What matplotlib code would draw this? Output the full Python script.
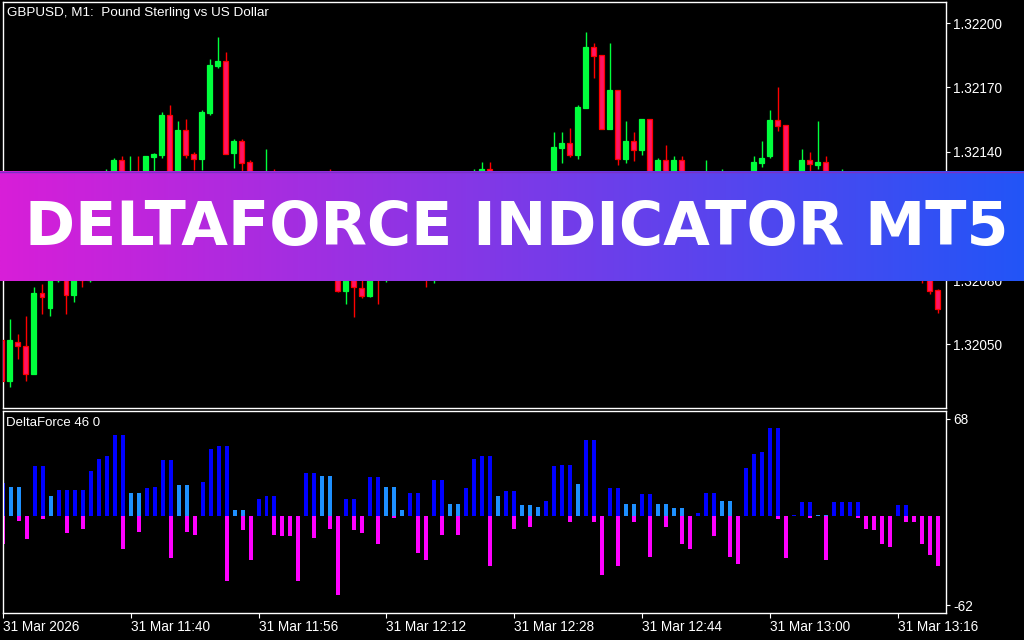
import numpy as np
import matplotlib
matplotlib.use("Agg")
import matplotlib.pyplot as plt

# ---------------- data ----------------
opens = [1.32052,1.32033,1.32051,1.32049,1.32036,1.32074,1.32067,1.32080,1.32096,1.32073,
         1.32088,1.32080,1.32098,1.32115,1.32126,1.32136,1.32122,1.32130,1.32127,1.321377,
         1.321385,1.321572,1.32128,1.321502,1.32139,1.321368,1.321582,1.321801,1.321824,1.321395,
         1.32145,1.321354,1.32115,1.32120,1.32128,1.32112,1.32104,1.32110,1.32095,1.32108,
         1.32116,1.32104,1.32100,1.32075,1.32095,1.320763,1.320727,1.32092,1.32082,1.32097,
         1.32090,1.32102,1.32095,1.32104,1.32088,1.32097,1.32106,1.32100,1.32114,1.32120,
         1.32126,1.321319,1.32120,1.32125,1.32115,1.32122,1.32118,1.32126,1.32120,1.32127,
         1.321418,1.321441,1.321385,1.321605,1.321891,1.321852,1.321506,1.321689,1.321366,1.32145,
         1.321408,1.321551,1.32125,1.321363,1.32128,1.321361,1.32124,1.32127,1.32121,1.32128,
         1.32120,1.32126,1.32116,1.32113,1.32122,1.321347,1.321382,1.321546,1.321527,1.32126,
         1.32128,1.321361,1.321338,1.321352,1.32122,1.32115,1.32124,1.32117,1.32110,1.32116,
         1.32106,1.32100,1.32106,1.32096,1.32100,1.32090,1.32084,1.320754]
highs = [1.32053,1.32062,1.32055,1.32063,1.32077,1.32078,1.32084,1.32100,1.32098,1.32090,
         1.32092,1.32100,1.32118,1.32132,1.32137,1.32138,1.32138,1.32138,1.32138,1.321392,
         1.321586,1.321618,1.321542,1.321551,1.321399,1.321596,1.321833,1.321936,1.321866,1.32146,
         1.32146,1.321363,1.32125,1.321413,1.32132,1.32118,1.32115,1.32112,1.32112,1.32120,
         1.32120,1.32132,1.32104,1.32098,1.32097,1.32082,1.32095,1.32096,1.32100,1.32102,
         1.32105,1.32106,1.32108,1.32108,1.32100,1.32110,1.32110,1.32118,1.32125,1.32132,
         1.321352,1.321352,1.32128,1.32128,1.32124,1.32126,1.32128,1.32129,1.32130,1.321492,
         1.321492,1.32151,1.321618,1.32196,1.321909,1.321852,1.321909,1.321689,1.321542,1.321492,
         1.321551,1.321551,1.32137,1.321433,1.321381,1.321381,1.32130,1.32130,1.321361,1.32130,
         1.32132,1.32128,1.32120,1.32125,1.321381,1.32145,1.321596,1.321702,1.321527,1.32130,
         1.321413,1.321399,1.321542,1.321381,1.32126,1.32132,1.32128,1.32120,1.32120,1.32118,
         1.32110,1.32110,1.32108,1.32104,1.32102,1.32094,1.32086,1.32076]
lows = [1.32032,1.32030,1.32043,1.32033,1.32036,1.32064,1.32063,1.32079,1.32064,1.32070,
        1.32077,1.32079,1.32095,1.32112,1.32124,1.32120,1.32120,1.32124,1.32125,1.32131,
        1.321371,1.32126,1.32127,1.321371,1.321315,1.321315,1.321573,1.321792,1.321391,1.321324,
        1.32128,1.32112,1.32108,1.32118,1.32110,1.32100,1.32100,1.32092,1.32093,1.32105,
        1.32100,1.32098,1.320745,1.32069,1.320627,1.320718,1.32072,1.32069,1.320793,1.32088,
        1.32088,1.32092,1.32093,1.320768,1.320787,1.32095,1.32098,1.32099,1.32112,1.32118,
        1.32124,1.32118,1.32116,1.32112,1.32112,1.32114,1.32116,1.32118,1.32117,1.32125,
        1.321347,1.321376,1.321366,1.321605,1.321746,1.321506,1.321506,1.321338,1.321347,1.321356,
        1.321385,1.32122,1.32123,1.32126,1.32126,1.32122,1.32120,1.32118,1.32119,1.32118,
        1.32118,1.32114,1.32110,1.32112,1.32120,1.32133,1.32137,1.321497,1.32124,1.32120,
        1.32126,1.32128,1.32132,1.32120,1.32112,1.32113,1.32114,1.32108,1.32108,1.32104,
        1.32098,1.32096,1.32094,1.32092,1.32088,1.320787,1.320734,1.320646]
closes = [1.32033,1.32052,1.32049,1.32036,1.32074,1.32072,1.32082,1.32096,1.32073,1.32088,
          1.32080,1.32098,1.32115,1.32128,1.32136,1.32122,1.32130,1.32127,1.32138,1.321391,
          1.321572,1.32128,1.321502,1.321385,1.321368,1.321586,1.321805,1.321824,1.321391,1.32145,
          1.321347,1.32115,1.32120,1.32128,1.32112,1.32104,1.32110,1.32095,1.32108,1.32116,
          1.32104,1.32100,1.32075,1.32095,1.320768,1.320727,1.32092,1.32082,1.32097,1.32090,
          1.32102,1.32095,1.32104,1.32088,1.32097,1.32106,1.32100,1.32114,1.32120,1.32128,
          1.321319,1.32120,1.32125,1.32115,1.32122,1.32118,1.32126,1.32120,1.32127,1.321422,
          1.321441,1.321385,1.321609,1.321891,1.321849,1.321506,1.321689,1.321366,1.32145,1.321408,
          1.321551,1.32125,1.321363,1.32128,1.321361,1.32124,1.32127,1.32121,1.32128,1.32120,
          1.32126,1.32116,1.32113,1.32122,1.321352,1.32137,1.321546,1.321522,1.32126,1.32128,
          1.321361,1.321343,1.321352,1.32122,1.32115,1.32124,1.32117,1.32110,1.32116,1.32106,
          1.32100,1.32106,1.32096,1.32100,1.32090,1.32084,1.32075,1.320666]

delta_pos = [23.5,20.3,20.3,0,35,35,14,18.2,18.2,18.2,
             18.2,31.5,40.1,42,56.6,56.6,16.1,16.1,19.6,20.3,
             39.2,39.2,21.7,21.7,0,23.8,47.1,49,49,4.2,
             4.2,0,11.9,14,14,0,0,0,30.1,30.1,
             28,28,0,11.9,11.9,0,27.3,27.3,20.3,20.3,
             4.2,16.1,16.1,0,25.2,25.2,8.4,8.4,19.6,40.1,
             42,42,14,17.5,17.5,7.7,7.7,6.3,10.5,35,
             35.7,35.7,22.4,53.1,53.1,0,19.6,19.6,8.4,8.4,
             15.4,15.4,8.4,8.4,5.6,5.6,0,2.3,16.1,16.1,
             10.5,10.5,0,33.6,43.4,44.8,61.5,61.5,0,0.7,
             9.8,9.8,0.7,0.7,9.8,9.8,9.8,9.8,0,0,
             0,0,7.9,7.9,0,0,0,0]
# 1 = weakening (light blue), 0 = strengthening (dark blue)
delta_pos_weak = [0,1,1,0,0,0,1,0,0,0,
                  0,0,0,0,0,0,1,1,0,0,
                  0,0,1,1,0,0,0,0,0,1,
                  1,0,0,0,0,0,0,0,0,0,
                  1,1,0,0,0,0,0,0,1,1,
                  1,0,0,0,0,0,1,1,0,0,
                  0,0,1,0,0,1,1,1,0,0,
                  0,0,1,0,0,0,0,0,1,1,
                  0,0,1,1,1,1,0,0,0,0,
                  1,1,0,0,0,0,0,0,0,0,
                  0,0,1,1,0,0,0,0,0,0,
                  0,0,0,0,0,0,0,0]
delta_neg = [-19.1,0,-3.3,-15.9,0,-1.9,0,0,-11.7,0,
             -8.9,0,0,0,0,-22.8,0,-11.2,0,0,
             0,-29.4,0,-11.2,-13.1,0,0,0,-45.2,0,
             -9.8,-30.8,0,0,-13.1,-14,-14,-45.2,0,-15.4,
             0,-8.9,-55,0,-9.8,-11.7,0,-19.6,0,-1.4,
             0,0,-25.6,-30.8,0,-13.1,0,-13.1,0,0,
             0,-35,0,0,-8.9,0,-7.5,0,0,0,
             0,-4.2,0,0,-4.2,-41,0,-35,0,-4.2,
             0,-28.4,0,-7.5,0,-19.6,-22.8,0,0,-14,
             0,-28.4,-33.6,0,0,0,0,-1.9,-29.4,0,
             0,-1.4,0,-30.8,0,0,0,-1.4,-8.9,-9.8,
             -19.6,-21.4,0,-4.2,-4.2,-19.6,-27,-35]

time_tick_idx = [0, 16, 32, 48, 64, 80, 96, 112]
time_tick_labels = ["31 Mar 2026", "31 Mar 11:40", "31 Mar 11:56", "31 Mar 12:12",
                    "31 Mar 12:28", "31 Mar 12:44", "31 Mar 13:00", "31 Mar 13:16"]
price_ticks = [1.32050, 1.32080, 1.32140, 1.32170, 1.32200]
ind_ticks = [68, -62]

title_text = "GBPUSD, M1:  Pound Sterling vs US Dollar"
ind_text = "DeltaForce 46 0"
banner_text = "DELTAFORCE INDICATOR MT5"

# ---------------- style ----------------
W, H = 1024, 640
BULL = "#00ff3c"
BEAR_EDGE = "#ff0000"
BEAR_FILL = "#ff1464"
DARK_BLUE = "#0000ff"
LIGHT_BLUE = "#1e90ff"
MAGENTA = "#ff00ff"
FONT = ["Liberation Sans", "DejaVu Sans"]

fig = plt.figure(figsize=(W / 100, H / 100), dpi=100, facecolor="black")

def px_axes(x0, y0, x1, y1):
    return fig.add_axes([x0 / W, 1 - y1 / H, (x1 - x0) / W, (y1 - y0) / H])

ax1 = px_axes(2.7, 2.3, 946.3, 408.3)
ax2 = px_axes(2.7, 410.7, 946.3, 613.3)

n = len(opens)
x = np.arange(n)
xlim = (0.09, 118.04)

for ax in (ax1, ax2):
    ax.set_facecolor("black")
    for s in ax.spines.values():
        s.set_color("white")
        s.set_linewidth(1.0)
    ax.set_xlim(*xlim)
    ax.yaxis.tick_right()
    ax.tick_params(axis="y", colors="white", length=3, width=0.8, pad=2,
                   labelsize=9.8)

# ---------------- candles ----------------
o = np.array(opens); h = np.array(highs); l = np.array(lows); c = np.array(closes)
bull = c >= o
wick_colors = [BULL if b else BEAR_EDGE for b in bull]
ax1.vlines(x, l, h, colors=wick_colors, linewidth=1.0, zorder=2)
body_bottom = np.minimum(o, c)
body_h = np.maximum(np.abs(c - o), 0.000006)
face = [BULL if b else BEAR_FILL for b in bull]
edge = [BULL if b else BEAR_EDGE for b in bull]
ax1.bar(x, body_h, bottom=body_bottom, width=0.62, color=face, edgecolor=edge,
        linewidth=0.9, zorder=3)
ax1.set_ylim(1.320201, 1.322098)
ax1.set_yticks(price_ticks)
ax1.set_yticklabels([f"{p:.5f}" for p in price_ticks], family=FONT, fontsize=9.8)
ax1.set_xticks([])

# ---------------- indicator ----------------
pos = np.array(delta_pos)
neg = np.array(delta_neg)
pcol = [LIGHT_BLUE if w else DARK_BLUE for w in delta_pos_weak]
ax2.bar(x, pos, width=0.5, color=pcol, linewidth=0, zorder=2)
ax2.bar(x, neg, width=0.5, color=MAGENTA, linewidth=0, zorder=2)
ax2.set_ylim(-67.8, 73.8)
ax2.set_yticks(ind_ticks)
ax2.set_yticklabels([str(v) for v in ind_ticks], family=FONT, fontsize=9.8)
ax2.set_xticks(time_tick_idx)
ax2.set_xticklabels(time_tick_labels, family=FONT, fontsize=9.8, color="white",
                    ha="left")
ax2.tick_params(axis="x", colors="white", length=3.5, width=0.8, pad=1.5)

# ---------------- texts ----------------
fig.text(7 / W, 1 - 13 / H, title_text, color="white", fontsize=9.7,
         family=FONT, va="center", ha="left")
fig.text(5.7 / W, 1 - 423 / H, ind_text, color="white", fontsize=9.5,
         family=FONT, va="center", ha="left")

# ---------------- banner ----------------
bax = px_axes(0, 171, 1024, 280.7)
left_c = np.array([216, 30, 216]) / 255.0
right_c = np.array([34, 85, 247]) / 255.0
t = np.linspace(0, 1, 512)[None, :, None]
grad = left_c[None, None, :] * (1 - t) + right_c[None, None, :] * t
bax.imshow(grad, aspect="auto", extent=(0, 1, 0, 1), interpolation="bilinear")
bax.set_xlim(0, 1); bax.set_ylim(0, 1)
bax.axis("off")
bax.axhline(0.995, color="#7a2fc8", linewidth=1.0)
fig.text(517 / W, 1 - 245 / H, banner_text, color="white", fontsize=43.5,
         fontweight="bold", family=["DejaVu Sans"], ha="center", va="baseline")

fig.savefig("out.png", dpi=100, facecolor="black")
